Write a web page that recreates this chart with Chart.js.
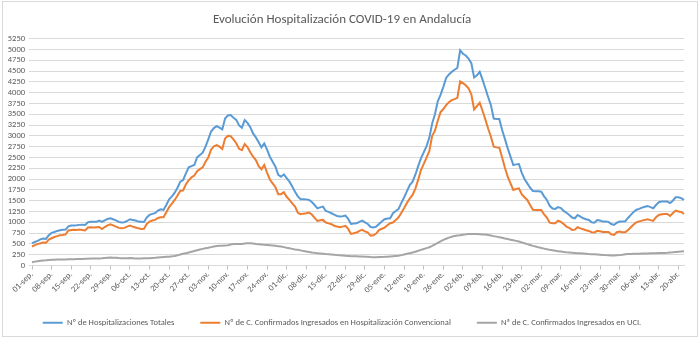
<!DOCTYPE html>
<html lang="es">
<head>
<meta charset="UTF-8">
<title>Evolución Hospitalización COVID-19 en Andalucía</title>
<script src="https://cdn.jsdelivr.net/npm/chart.js"></script>
<style>
  body { margin: 0; background: #ffffff; }
  .frame { position: relative; width: 700px; height: 340px; }
  .frame::after {
    content: ''; position: absolute; left: 2px; top: 1px; right: 2px; bottom: 3px;
    border: 1px solid #d9d9d9; pointer-events: none;
  }
</style>
</head>
<body>
<div class="frame">
  <canvas id="hospChart" width="700" height="340"></canvas>
</div>
<script>
// daily series from 01-sep to 22-abr (one row per week)
const months = ['sep', 'oct', 'nov', 'dic', 'ene', 'feb', 'mar', 'abr'];
const monthDays = [30, 31, 30, 31, 31, 28, 31, 22];

const totales = [
  510, 545, 570, 605, 625, 615, 700,
  755, 775, 800, 815, 825, 830, 905,
  925, 928, 932, 940, 945, 940, 1000,
  1010, 1012, 1010, 1040, 1010, 1045, 1075,
  1093, 1070, 1045, 1010, 993, 1000, 1030,
  1070, 1055, 1040, 1016, 1010, 1005, 1110,
  1170, 1195, 1210, 1270, 1300, 1285, 1400,
  1530, 1600, 1686, 1800, 1940, 1978, 2130,
  2271, 2300, 2325, 2500, 2556, 2610, 2750,
  2920, 3100, 3180, 3225, 3190, 3148, 3400,
  3470, 3480, 3420, 3370, 3240, 3187, 3364,
  3300, 3200, 3056, 2964, 2850, 2733, 2825,
  2680, 2517, 2400, 2286, 2100, 2055, 2109,
  2020, 1940, 1830, 1709, 1600, 1532, 1535,
  1530, 1517, 1470, 1400, 1324, 1345, 1362,
  1262, 1240, 1209, 1175, 1147, 1132, 1140,
  1155, 1078, 962, 970, 978, 1010, 1039,
  1000, 960, 890, 880, 900, 960, 1020,
  1070, 1085, 1093, 1209, 1260, 1309, 1450,
  1580, 1720, 1860, 1940, 2100, 2300, 2479,
  2620, 2764, 2960, 3287, 3500, 3800, 3950,
  4134, 4340, 4420, 4480, 4530, 4570, 4980,
  4900, 4860, 4790, 4680, 4350, 4400, 4480,
  4300, 4100, 3900, 3710, 3400, 3387, 3387,
  3133, 2930, 2710, 2520, 2325, 2340, 2348,
  2150, 2000, 1901, 1800, 1724, 1720, 1717,
  1709, 1600, 1517, 1380, 1320, 1309, 1350,
  1330, 1262, 1220, 1170, 1110, 1093, 1170,
  1130, 1093, 1070, 1055, 1000, 990, 1050,
  1040, 1016, 1016, 1010, 960, 939, 990,
  1016, 1016, 1025, 1100, 1170, 1240, 1290,
  1310, 1340, 1360, 1378, 1350, 1324, 1400,
  1463, 1478, 1478, 1478, 1445, 1500, 1578,
  1580, 1560, 1517
];

const convencional = [
  440, 470, 495, 515, 530, 525, 600,
  630, 660, 680, 700, 708, 720, 810,
  823, 825, 823, 830, 823, 810, 880,
  885, 880, 885, 890, 845, 890, 930,
  955, 930, 900, 870, 862, 870, 900,
  924, 900, 880, 860, 845, 850, 960,
  1016, 1040, 1055, 1100, 1116, 1116, 1230,
  1350, 1430, 1517, 1620, 1732, 1735, 1880,
  1970, 2040, 2080, 2180, 2230, 2270, 2400,
  2500, 2680, 2760, 2787, 2750, 2694, 2940,
  3000, 2990, 2920, 2830, 2700, 2671, 2810,
  2740, 2620, 2517, 2440, 2300, 2225, 2325,
  2150, 1990, 1900, 1810, 1650, 1650, 1694,
  1590, 1520, 1440, 1362, 1220, 1186, 1200,
  1209, 1224, 1180, 1100, 1032, 1045, 1055,
  993, 975, 955, 920, 901, 885, 900,
  916, 847, 731, 745, 762, 800, 824,
  790, 760, 690, 700, 740, 820, 850,
  878, 930, 978, 993, 1050, 1116, 1220,
  1330, 1450, 1550, 1632, 1780, 1980, 2209,
  2350, 2494, 2650, 3000, 3120, 3350, 3550,
  3620, 3710, 3780, 3826, 3850, 3880, 4260,
  4220, 4170, 4100, 3960, 3610, 3687, 3764,
  3580, 3380, 3170, 2979, 2750, 2733, 2725,
  2500, 2260, 2055, 1900, 1747, 1770, 1786,
  1650, 1580, 1517, 1400, 1290, 1286, 1286,
  1286, 1180, 1110, 990, 978, 978, 1039,
  1010, 960, 900, 870, 824, 830, 885,
  860, 839, 815, 800, 770, 765, 801,
  790, 777, 777, 775, 720, 708, 770,
  785, 770, 770, 820, 885, 950, 1000,
  1020, 1039, 1055, 1070, 1050, 1032, 1120,
  1170, 1186, 1190, 1193, 1147, 1210, 1270,
  1250, 1240, 1193
];

const uci = [
  75, 90, 100, 110, 118, 122, 128,
  132, 135, 137, 138, 138, 140, 142,
  145, 146, 148, 150, 152, 155, 158,
  160, 160, 162, 162, 165, 172, 180,
  185, 182, 178, 172, 168, 168, 170,
  172, 168, 162, 160, 162, 166, 168,
  170, 174, 178, 185, 190, 196, 200,
  205, 212, 222, 235, 255, 270, 285,
  300, 318, 335, 352, 370, 385, 400,
  410, 425, 438, 450, 455, 458, 460,
  470, 485, 495, 498, 495, 500, 508,
  515, 516, 510, 500, 492, 485, 480,
  477, 470, 462, 455, 448, 439, 425,
  410, 398, 385, 372, 362, 350, 338,
  325, 312, 300, 292, 285, 278, 272,
  266, 262, 255, 248, 240, 235, 230,
  223, 220, 216, 214, 212, 210, 208,
  205, 200, 195, 192, 193, 196, 198,
  200, 205, 210, 215, 220, 225, 240,
  255, 270, 285, 300, 320, 340, 362,
  382, 402, 423, 455, 490, 525, 560,
  593, 620, 645, 665, 685, 695, 700,
  710, 720, 728, 731, 731, 728, 725,
  720, 716, 705, 695, 680, 668, 654,
  640, 625, 612, 598, 585, 570, 554,
  535, 515, 495, 475, 454, 438, 420,
  405, 390, 375, 362, 352, 342, 332,
  322, 312, 305, 300, 295, 290, 286,
  282, 278, 272, 266, 262, 258, 255,
  250, 245, 240, 235, 231, 230, 235,
  240, 250, 262, 265, 268, 270, 272,
  274, 275, 277, 280, 282, 284, 286,
  288, 290, 292, 295, 300, 305, 312,
  318, 325, 331
];

const seriesNames = [
  'Nº de Hospitalizaciones Totales',
  'Nº de C. Confirmados Ingresados en Hospitalización Convencional',
  'Nª de C. Confirmados Ingresados en UCI.'
];

// "01-sep." ... "22-abr."
const days = [];
months.forEach((m, i) => {
  for (let d = 1; d <= monthDays[i]; d++) {
    days.push(String(d).padStart(2, '0') + '-' + m + '.');
  }
});

const FONT = 'Carlito, Lato, "Open Sans", sans-serif';
const TEXT = '#595959';
const GRID = '#d9d9d9';

function line(label, data, color) {
  return {
    label: label,
    data: data,
    borderColor: color,
    backgroundColor: color,
    borderWidth: 2,
    pointRadius: 0,
    tension: 0,
    fill: false
  };
}

const ctx = document.getElementById('hospChart').getContext('2d');
new Chart(ctx, {
  type: 'line',
  data: {
    labels: days,
    datasets: [
      line(seriesNames[0], totales, '#5b9bd5'),
      line(seriesNames[1], convencional, '#ed7d31'),
      line(seriesNames[2], uci, '#a5a5a5')
    ]
  },
  options: {
    responsive: false,
    animation: false,
    layout: { padding: { left: 0, right: 16, top: 3, bottom: 3 } },
    plugins: {
      title: {
        display: true,
        text: 'Evolución Hospitalización COVID-19 en Andalucía',
        color: TEXT,
        font: { family: FONT, size: 13, weight: 'normal' },
        padding: { top: 9, bottom: 11 }
      },
      legend: {
        position: 'bottom',
        labels: {
          usePointStyle: true,
          pointStyle: 'line',
          pointStyleWidth: 20,
          padding: 26,
          color: TEXT,
          font: { family: FONT, size: 8.5 }
        }
      },
      tooltip: { enabled: false }
    },
    scales: {
      x: {
        grid: {
          drawOnChartArea: false,
          tickLength: 4,
          color: c => (c.index % 7 === 0 ? '#bfbfbf' : 'rgba(0,0,0,0)')
        },
        border: { color: GRID },
        ticks: {
          autoSkip: false,
          minRotation: 45,
          maxRotation: 45,
          padding: 0,
          color: TEXT,
          font: { family: FONT, size: 8.5 },
          callback: function (v, i) { return i % 7 === 0 ? this.getLabelForValue(v) : ''; }
        },
        afterFit: s => { s.height = 27; }
      },
      y: {
        min: 0,
        max: 5250,
        ticks: {
          stepSize: 250,
          autoSkip: false,
          padding: 4,
          color: TEXT,
          font: { family: FONT, size: 8.5 },
          callback: v => String(v)
        },
        grid: { color: GRID, tickLength: 3 },
        border: { display: false },
        afterFit: s => { s.width = 32; }
      }
    }
  }
});
</script>
</body>
</html>
